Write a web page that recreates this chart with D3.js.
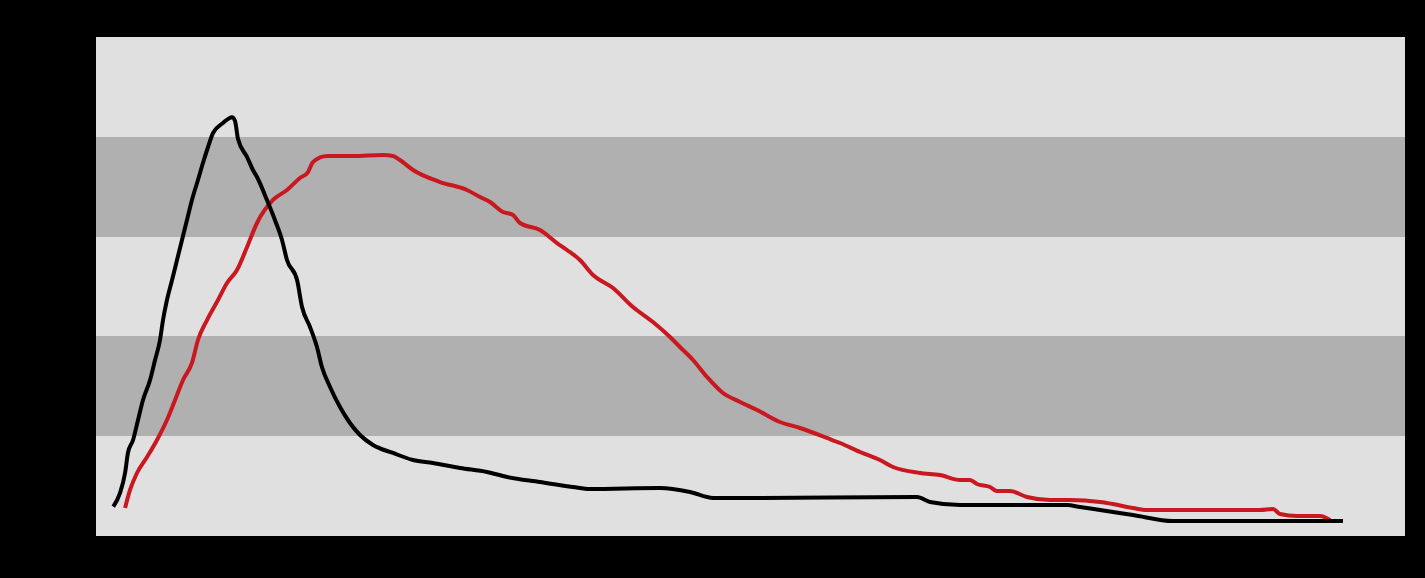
<!DOCTYPE html>
<html>
<head>
<meta charset="utf-8">
<script src="https://cdn.jsdelivr.net/npm/d3@7"></script>
<style>
  html, body { margin: 0; padding: 0; background: #000; }
  svg { display: block; }
</style>
</head>
<body>
<svg id="chart" width="1425" height="578"></svg>
<script>
// Band boundaries (y units)
const bandEdges = [0, 20, 40, 60, 80, 100];

// Black series
const blackX = [1.32,1.83,2.22,2.44,2.83,3.21,3.59,4.13,4.51,4.89,5.12,5.42,5.81,6.19,6.57,6.95,7.33,7.79,8.17,8.56,8.94,9.70,10.39,10.62,10.85,11.54,11.99,12.30,13.06,13.67,14.21,14.59,15.36,15.74,16.35,16.88,17.26,17.88,18.64,19.40,20.17,21.16,22.69,24.22,25.74,27.81,29.87,31.40,33.92,36.44,37.74,43.09,45.38,47.14,49.96,62.72,63.71,66.01,74.18,75.17,76.70,79.22,82.28,95.26];
const blackY = [5.68,8.43,12.45,16.47,19.08,23.09,27.11,31.12,35.14,39.16,43.17,47.19,51.20,55.22,59.24,63.25,67.27,71.29,74.70,77.91,80.72,82.73,83.90,83.13,79.52,75.90,73.29,71.89,67.27,63.25,59.24,55.22,51.20,45.78,41.77,37.75,33.73,29.72,25.70,22.49,20.08,18.07,16.47,15.06,14.46,13.45,12.65,11.65,10.64,9.64,9.24,9.44,8.63,7.43,7.43,7.63,6.63,6.02,6.02,5.62,5.02,4.02,2.81,2.81];

// Red series
const redX = [2.22,2.60,3.13,3.90,4.66,5.42,6.04,6.65,7.33,7.79,8.48,9.32,10.01,10.77,11.54,12.30,13.52,14.59,15.58,16.20,16.58,17.65,19.63,21.93,22.69,23.22,24.22,26.28,28.34,29.34,30.10,31.09,31.86,32.39,33.92,35.22,35.98,36.97,37.97,39.50,41.02,42.55,43.85,44.61,45.61,46.68,47.90,49.20,50.50,52.25,53.78,55.84,56.84,58.37,59.89,60.89,62.95,64.48,66.01,66.77,67.30,68.30,68.83,69.82,71.12,72.88,74.41,76.70,77.69,79.22,80.29,88.92,89.92,90.45,91.75,93.51,94.27];
const redY = [5.42,9.04,12.45,15.66,19.08,23.09,27.11,31.12,34.54,39.16,43.17,47.19,50.60,53.21,57.83,62.65,67.27,69.28,71.69,72.89,74.90,76.10,76.10,76.31,76.10,75.30,73.29,70.88,69.28,67.87,66.87,64.86,64.26,62.65,61.24,58.63,57.23,55.22,52.21,49.60,45.78,42.77,39.76,37.75,35.14,31.73,28.51,26.71,25.10,22.69,21.49,19.48,18.47,16.67,15.06,13.65,12.45,12.05,11.04,11.04,10.24,9.64,8.84,8.84,7.63,7.03,7.03,6.63,6.22,5.42,5.02,5.02,5.22,4.22,3.82,3.82,3.01];

const margin = {left: 96, right: 20, top: 37, bottom: 43};
const W = 1425, H = 578;
const svg = d3.select("#chart");

const x = d3.scaleLinear().domain([0, 100]).range([margin.left, W - margin.right]);
const y = d3.scaleLinear().domain([0, 100]).range([H - margin.bottom, margin.top]);

// Bands
const bands = d3.pairs(bandEdges).map((p, i) => ({lo: p[0], hi: p[1], i}));
svg.append("g").attr("shape-rendering", "crispEdges")
  .selectAll("rect").data(bands).join("rect")
  .attr("x", x(0))
  .attr("width", x(100) - x(0))
  .attr("y", d => y(d.hi))
  .attr("height", d => y(d.lo) - y(d.hi) + 0.5)
  .attr("fill", d => d.i % 2 === 0 ? "#e0e0e0" : "#b0b0b0");

const line = d3.line().curve(d3.curveMonotoneX).x(d => x(d[0])).y(d => y(d[1]));

const series = [
  {name: "red", xs: redX, ys: redY, color: "#c9181f"},
  {name: "black", xs: blackX, ys: blackY, color: "#000000"}
];

svg.append("g").selectAll("path").data(series).join("path")
  .attr("d", s => line(d3.zip(s.xs, s.ys)))
  .attr("fill", "none")
  .attr("stroke", s => s.color)
  .attr("stroke-width", 4)
  .attr("stroke-linejoin", "round")
  .attr("stroke-linecap", "butt");
</script>
</body>
</html>
